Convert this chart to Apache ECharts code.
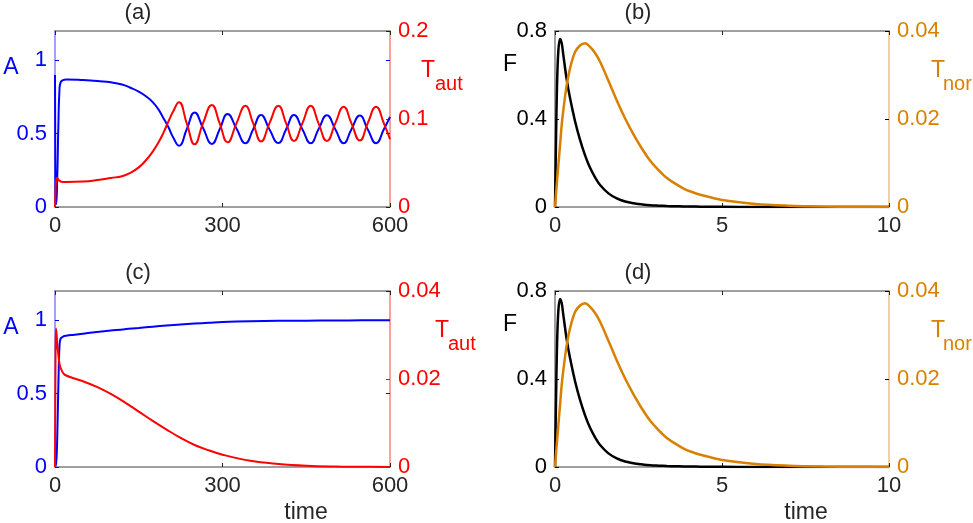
<!DOCTYPE html>
<html>
<head>
<meta charset="utf-8">
<script src="https://cdn.jsdelivr.net/npm/echarts@6/dist/echarts.min.js"></script>
<style>html,body{margin:0;padding:0;background:#fff}#chart{width:973px;height:523px}</style>
</head>
<body>
<div id="chart"></div>
<script>
// panel (a): A and T_aut, oscillating case
var aTime = [0, 0.8, 2, 4, 6, 8, 10, 14, 20, 50, 80, 100, 120, 134, 150, 164, 175, 185, 194, 203, 212, 222,
    236, 250, 265, 281, 295, 309, 325, 341, 355, 369, 384, 400, 414, 428, 443, 458, 472, 487, 502, 517, 531, 546, 560, 575, 589, 600];
var aA = [0.9, 0.05, 0.02, 0.2, 0.55, 0.8, 0.85, 0.865, 0.87, 0.866, 0.858, 0.85, 0.835, 0.815, 0.787, 0.752, 0.715, 0.667, 0.607, 0.545, 0.472, 0.418,
    0.53, 0.645, 0.54, 0.43, 0.53, 0.634, 0.535, 0.434, 0.53, 0.628, 0.53, 0.436, 0.53, 0.627, 0.53, 0.435, 0.53, 0.625, 0.53, 0.435, 0.53, 0.624, 0.53, 0.435, 0.53, 0.615];
var aT = [0, 0.015, 0.03, 0.033, 0.031, 0.03, 0.029, 0.0285, 0.0285, 0.029, 0.031, 0.033, 0.035, 0.0385, 0.045, 0.054, 0.063, 0.073, 0.084, 0.097, 0.109, 0.119,
    0.095, 0.0712, 0.095, 0.116, 0.095, 0.0735, 0.095, 0.115, 0.095, 0.0745, 0.095, 0.115, 0.095, 0.075, 0.095, 0.115, 0.095, 0.075, 0.095, 0.114, 0.095, 0.0755, 0.095, 0.114, 0.095, 0.077];

// panel (c): A and T_aut, steady case
var cTime = [0, 1, 1.8, 3, 4, 6, 8, 10, 15, 20, 35, 50, 75, 100, 125, 150, 175, 200, 225, 250, 275, 300, 350, 400, 450, 500, 550, 600];
var cA = [0, 0.01, 0.02, 0.08, 0.2, 0.55, 0.82, 0.875, 0.89, 0.895, 0.902, 0.909, 0.92, 0.93, 0.94, 0.948, 0.957, 0.965, 0.972, 0.978, 0.983, 0.988, 0.994, 0.997, 0.998, 0.999, 1.0, 1.0];
var cT = [0, 0.026, 0.0315, 0.03, 0.028, 0.0255, 0.0235, 0.0225, 0.0213, 0.0208, 0.0201, 0.0195, 0.0182, 0.0166, 0.0147, 0.0126, 0.0105, 0.0085, 0.0066, 0.005, 0.0038, 0.0028, 0.0014, 0.0007, 0.0003, 0.00012, 0.00005, 0.00002];

// panels (b) and (d): F and T_nor
var bTime = [0, 0.03, 0.06, 0.1, 0.15, 0.2, 0.25, 0.35, 0.45, 0.6, 0.75, 0.9, 1.05, 1.2, 1.35, 1.6, 1.85, 2.1, 2.35, 2.6, 2.85, 3.1, 3.35, 3.6, 3.85, 4.1, 4.35, 5, 6, 7, 8, 9, 10];
var bF = [0, 0.3, 0.55, 0.71, 0.764, 0.745, 0.69, 0.58, 0.495, 0.39, 0.305, 0.235, 0.178, 0.135, 0.1, 0.062, 0.039, 0.025, 0.017, 0.012, 0.008, 0.006, 0.0045, 0.0034, 0.0025, 0.002, 0.0015, 0.0008, 0.0003, 0.0001, 0.00005, 0.00002, 0];
var bT = [0, 0.003, 0.0058, 0.0095, 0.014, 0.0186, 0.022, 0.0277, 0.0315, 0.0352, 0.0367, 0.0372, 0.0364, 0.035, 0.033, 0.0287, 0.0242, 0.0201, 0.0165, 0.0133, 0.0105, 0.0084, 0.0066, 0.0053, 0.0042, 0.0034, 0.0028, 0.0016, 0.0007, 0.0003, 0.00012, 0.00005, 0.00002];

var titles = ['(a)', '(b)', '(c)', '(d)'];

var FONT = '"Liberation Sans", Arial, sans-serif';
var BLUE = '#0000ff', RED = '#ff0000', ORANGE = '#d98000', DARK = '#262626';

function pairs(ts, vs) {
    return ts.map(function (t, i) { return [t, vs[i]]; });
}

var panels = [
    {box: {left: 55, top: 31, width: 335, height: 176}, xMax: 600, xStep: 300, time: aTime, l: aA, r: aT, sm: 0.5,
        lMax: 1.2, lStep: 0.5, rMax: 0.2, rStep: 0.1, lCol: BLUE, lLine: '#8080ff', rCol: RED, rLine: '#ff8080', lw: 2},
    {box: {left: 555, top: 31, width: 334, height: 176}, xMax: 10, xStep: 5, time: bTime, l: bF, r: bT, sm: 0.35,
        lMax: 0.8, lStep: 0.4, rMax: 0.04, rStep: 0.02, lCol: '#000000', lLine: '#808080', rCol: ORANGE, rLine: '#ecc080', lw: 2.5},
    {box: {left: 55, top: 291, width: 335, height: 176}, xMax: 600, xStep: 300, time: cTime, l: cA, r: cT, sm: 0.4,
        lMax: 1.2, lStep: 0.5, rMax: 0.04, rStep: 0.02, lCol: BLUE, lLine: '#8080ff', rCol: RED, rLine: '#ff8080', lw: 2},
    {box: {left: 555, top: 291, width: 334, height: 176}, xMax: 10, xStep: 5, time: bTime, l: bF, r: bT, sm: 0.35,
        lMax: 0.8, lStep: 0.4, rMax: 0.04, rStep: 0.02, lCol: '#000000', lLine: '#808080', rCol: ORANGE, rLine: '#ecc080', lw: 2.5}
];

var grid = [], xAxis = [], yAxis = [], series = [];
panels.forEach(function (p, i) {
    var g = Object.assign({outerBoundsMode: 'none', containLabel: false}, p.box);
    grid.push(g);
    ['bottom', 'top'].forEach(function (pos) {
        xAxis.push({
            type: 'value', gridIndex: i, position: pos, min: 0, max: p.xMax, interval: p.xStep,
            axisLine: {onZero: false, lineStyle: {color: '#808080', width: 1.5}},
            axisTick: {inside: true, length: 4, lineStyle: {color: DARK}},
            axisLabel: {show: pos === 'bottom', color: DARK, fontSize: 22, fontFamily: FONT, margin: 8},
            splitLine: {show: false}
        });
    });
    // left axis
    yAxis.push({
        type: 'value', gridIndex: i, position: 'left', min: 0, max: p.lMax, interval: p.lStep,
        axisLine: {onZero: false, lineStyle: {color: p.lLine, width: 1.5}},
        axisTick: {inside: true, length: 4, lineStyle: {color: p.lCol}},
        axisLabel: {color: p.lCol, fontSize: 22, fontFamily: FONT, margin: 8, showMaxLabel: p.lMax !== 1.2},
        splitLine: {show: false}
    });
    // right axis
    yAxis.push({
        type: 'value', gridIndex: i, position: 'right', min: 0, max: p.rMax, interval: p.rStep,
        axisLine: {onZero: false, lineStyle: {color: p.rLine, width: 1.5}},
        axisTick: {inside: true, length: 4, lineStyle: {color: p.rCol}},
        axisLabel: {color: p.rCol, fontSize: 22, fontFamily: FONT, margin: 8},
        splitLine: {show: false}
    });
    // left ticks mirrored on the right side (box on)
    yAxis.push({
        type: 'value', gridIndex: i, position: 'right', min: 0, max: p.lMax, interval: p.lStep,
        axisLine: {show: false, onZero: false},
        axisTick: {inside: true, length: 4, lineStyle: {color: p.lCol}},
        axisLabel: {show: false},
        splitLine: {show: false}
    });
    series.push({
        type: 'line', xAxisIndex: 2 * i, yAxisIndex: 3 * i, data: pairs(p.time, p.l),
        showSymbol: false, smooth: p.sm, animation: false,
        lineStyle: {color: p.lCol, width: p.lw}, itemStyle: {color: p.lCol}
    });
    series.push({
        type: 'line', xAxisIndex: 2 * i, yAxisIndex: 3 * i + 1, data: pairs(p.time, p.r),
        showSymbol: false, smooth: p.sm, animation: false,
        lineStyle: {color: p.rCol, width: p.lw}, itemStyle: {color: p.rCol}
    });
});

function txt(x, y, s, color, size, align) {
    return {type: 'text', x: x, y: y, silent: true,
        style: {text: s, fill: color, fontSize: size, fontFamily: FONT, align: align || 'left', verticalAlign: 'middle'}};
}

var graphic = [];
[0, 260].forEach(function (dy, row) {
    graphic.push(txt(138, 12.5 + dy, titles[row * 2], DARK, 22, 'center'));
    graphic.push(txt(638, 12.5 + dy, titles[row * 2 + 1], DARK, 22, 'center'));
    graphic.push(txt(11, 67.5 + dy, 'A', BLUE, 23, 'center'));
    graphic.push(txt(510, 64.5 + dy, 'F', '#000000', 23, 'center'));
    graphic.push(txt(931, 70.5 + dy, 'T', ORANGE, 23));
    graphic.push(txt(943, 84 + dy, 'nor', ORANGE, 20));
});
graphic.push(txt(421, 70.5, 'T', RED, 23));
graphic.push(txt(435, 84, 'aut', RED, 20));
graphic.push(txt(435, 330.5, 'T', RED, 23));
graphic.push(txt(448, 344, 'aut', RED, 20));
graphic.push(txt(306, 513, 'time', DARK, 23, 'center'));
graphic.push(txt(806, 513, 'time', DARK, 23, 'center'));

var myChart = echarts.init(document.getElementById('chart'));
myChart.setOption({
    animation: false,
    backgroundColor: '#ffffff',
    grid: grid,
    xAxis: xAxis,
    yAxis: yAxis,
    series: series,
    graphic: graphic
});
</script>
</body>
</html>
